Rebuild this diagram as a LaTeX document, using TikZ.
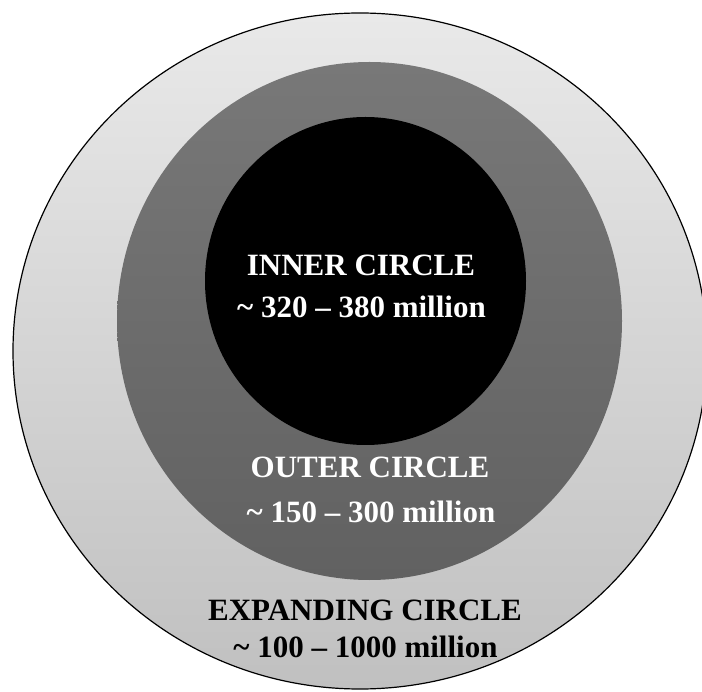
\documentclass[tikz,border=0pt]{standalone}
\usepackage{fontspec}
\setmainfont{Liberation Serif}
\definecolor{expandtop}{HTML}{E9E9E9}
\definecolor{expandbot}{HTML}{C0C0C0}
\definecolor{outertop}{HTML}{787878}
\definecolor{outerbot}{HTML}{616161}
\begin{document}
\begin{tikzpicture}[x=1pt, y=-1pt]
  \tikzstyle{ringtext} = [font=\fontsize{31}{31}\selectfont\bfseries, anchor=base, inner sep=0pt]
  \useasboundingbox (0,0) rectangle (702,692);
  % the three circles
  \shade[top color=expandtop, bottom color=expandbot, draw=black, line width=1.2pt] (360,351) ellipse [x radius=347, y radius=338];
  \shade[top color=outertop, bottom color=outerbot] (369.5,321) ellipse [x radius=252.5, y radius=259];
  \fill[black] (365.5,281) ellipse [x radius=160.5, y radius=164];
  % labels
  \node[ringtext, white] (inner-name) at (361,276) {INNER CIRCLE};
  \node[ringtext, white] (inner-size) at (361.5,318) {\char`\~{} 320 -- 380 million};
  \node[ringtext, white] (outer-name) at (370,478) {OUTER CIRCLE};
  \node[ringtext, white] (outer-size) at (371,522) {\char`\~{} 150 -- 300 million};
  \node[ringtext, black] (expand-name) at (365,620) {EXPANDING CIRCLE};
  \node[ringtext, black] (expand-size) at (365.5,657) {\char`\~{} 100 -- 1000 million};
\end{tikzpicture}
\end{document}
